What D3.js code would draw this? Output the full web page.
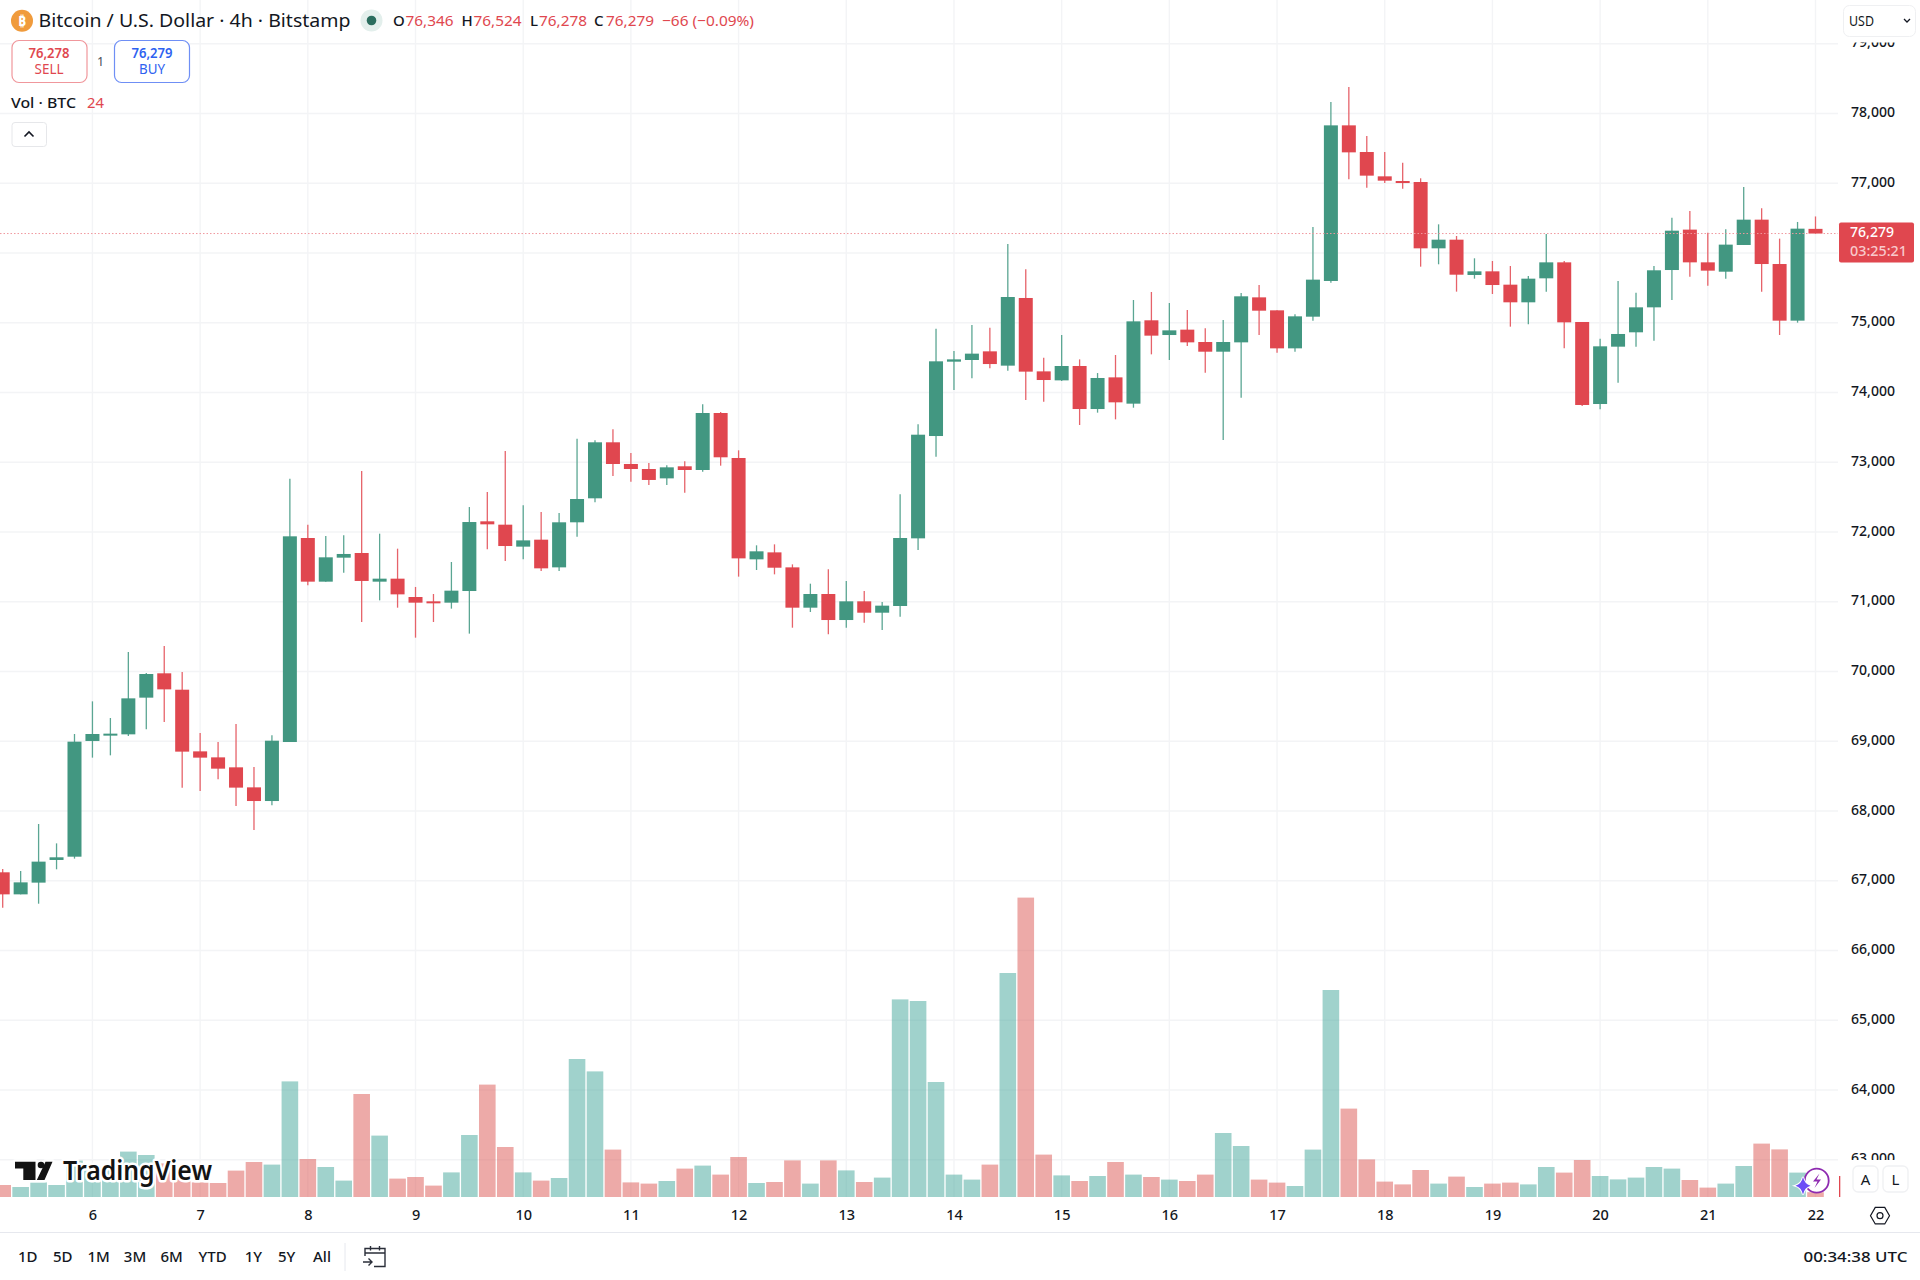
<!DOCTYPE html>
<html>
<head>
<meta charset="utf-8">
<script src="https://cdn.jsdelivr.net/npm/d3@7/dist/d3.min.js"></script>
<style>
  html, body { margin: 0; padding: 0; background: #fff; }
  svg { display: block; }
  text { font-family: "Noto Sans", sans-serif; }
</style>
</head>
<body>
<svg id="chart" width="1920" height="1280"></svg>
<script>
// BTC/USD, 4-hour candles (Bitstamp); first bar is 5th 20:00
const opens = [67121,66805,66973,67298,67345,69004,69090,69099,69625,69974,69739,68855,68769,68626,68339,68143,68989,71914,71288,71632,71699,71288,71331,71068,71006,70987,71154,72153,72105,71790,71890,71493,72139,72483,73286,72975,72903,72769,72942,72889,73706,73061,71608,71708,71493,70915,71111,70738,71006,70843,70939,71909,73376,74442,74466,74590,74385,75355,74303,74174,74380,73763,74217,73840,75035,74824,74901,74724,74585,74719,75364,75178,74633,75087,75599,77830,77448,77099,77032,77018,76067,76191,75685,75737,75546,75293,75637,75866,75011,73835,74657,74863,75221,75756,76335,75866,75732,76115,76478,75842,75030,76346];
const highs = [67168,67140,67814,67536,69104,69572,69333,70280,69978,70365,69993,69118,68989,69247,68631,69085,72765,72105,71943,71952,72875,71976,71761,71212,71111,71570,72358,72573,73161,72382,72287,72272,73338,73314,73472,73133,72989,72956,73013,73830,73720,73171,71809,71823,71536,71259,71465,71297,71154,70996,72540,73544,74915,74595,74968,74929,76129,75766,74499,74824,74475,74279,74538,75326,75441,75283,75183,74920,75039,75426,75541,75178,75121,76373,78165,78380,77677,77448,77295,77071,76411,76244,75924,75885,75814,75670,76272,75885,75011,74772,75599,75431,75814,76507,76602,76292,76339,76946,76640,76206,76445,76524];
const lows = [66614,66805,66671,67164,67317,68765,68798,69075,69171,69276,68335,68287,68454,68072,67728,68081,68989,71235,71288,71417,70710,71020,70915,70485,70710,70901,70543,71752,71584,71608,71441,71441,71933,72425,72803,72722,72674,72674,72564,72865,72951,71360,71455,71393,70628,70853,70533,70628,70700,70595,70786,71742,73080,74036,74203,74346,74313,73892,73868,74165,73534,73711,73615,73782,74547,74466,74667,74284,73319,73926,74824,74571,74585,75030,75575,77056,76937,77004,76922,75804,75838,75446,75632,75412,74944,74977,75446,74633,73807,73759,74141,74657,74743,75326,75661,75532,75632,76115,75446,74824,75001,76278];
const closes = [66805,66977,67274,67336,68994,69104,69109,69615,69964,69744,68851,68765,68607,68335,68143,69008,71938,71288,71637,71685,71298,71331,71106,70987,70987,71159,72143,72110,71799,71880,71479,72139,72473,73286,72975,72903,72746,72927,72889,73706,73071,71622,71723,71488,70915,71111,70738,71006,70843,70944,71914,73395,74447,74475,74557,74408,75369,74299,74179,74380,73763,74208,73859,75020,74815,74891,74719,74585,74724,75379,75173,74633,75092,75618,77830,77443,77109,77037,77008,76067,76191,75689,75737,75541,75293,75632,75866,75006,73821,74662,74839,75221,75752,76320,75866,75747,76120,76478,75842,75030,76349,76279];
const volumes = [60,50,73,60,182,152,135,227,210,168,118,73,70,132,175,162,578,190,150,82,515,307,92,100,57,123,310,562,250,123,82,95,690,628,237,73,67,80,142,157,112,200,70,75,183,67,183,133,75,97,988,980,575,112,87,162,1120,1497,212,108,80,105,175,112,100,87,80,112,320,255,87,72,55,237,1035,442,188,77,63,135,67,102,50,67,72,63,150,122,185,105,88,97,150,142,85,47,67,155,267,238,122,24];

const priceTicks = [79000,78000,77000,76000,75000,74000,73000,72000,71000,70000,69000,68000,67000,66000,65000,64000,63000];
const dayLabels = [6,7,8,9,10,11,12,13,14,15,16,17,18,19,20,21,22];
const rangeButtons = [["1D",27.7],["5D",62.7],["1M",98.7],["3M",135],["6M",171.7],["YTD",212.7],["1Y",253.3],["5Y",286.7],["All",322]];
const lastPrice = 76279;

const GREEN = "#429781", RED = "#e0474f", TEXT = "#131722", GRID = "#f3f4f6";

const svg = d3.select("#chart");
const x = d3.scaleLinear().domain([0, 101]).range([2.7, 1815.5]);
const y = d3.scaleLinear().domain([79000, 63000]).range([43.75, 1159.75]);
const vol = d3.scaleLinear().domain([0, 1500]).range([1197, 897]);
const dayIndex = d => (d - 6) * 6 + 5;

const defs = svg.append("defs");
defs.append("clipPath").attr("id", "pane").append("rect").attr("x", 0).attr("y", 0).attr("width", 1838).attr("height", 1197);
defs.append("clipPath").attr("id", "priceScale").append("rect").attr("x", 1838).attr("y", 42.5).attr("width", 82).attr("height", 1117.5);

// Grid
const grid = svg.append("g").attr("clip-path", "url(#pane)");
grid.selectAll(".h").data(priceTicks).join("line")
  .attr("x1", 0).attr("x2", 1838).attr("y1", d => y(d)).attr("y2", d => y(d))
  .attr("stroke", GRID).attr("stroke-width", 1.4);
grid.selectAll(".v").data(dayLabels).join("line")
  .attr("x1", d => x(dayIndex(d))).attr("x2", d => x(dayIndex(d))).attr("y1", 0).attr("y2", 1197)
  .attr("stroke", GRID).attr("stroke-width", 1.4);

const up = i => closes[i] >= opens[i];

// Volume bars
const volW = 16.6;
svg.append("g").attr("clip-path", "url(#pane)").selectAll("rect").data(volumes).join("rect")
  .attr("x", (d, i) => x(i) - volW / 2).attr("width", volW)
  .attr("y", d => vol(d)).attr("height", d => 1197 - vol(d))
  .attr("fill", (d, i) => up(i) ? "#41a599" : "#db5551").attr("fill-opacity", 0.5);

// Candles
const candles = svg.append("g").attr("clip-path", "url(#pane)").selectAll("g").data(opens).join("g");
candles.append("line")
  .attr("x1", (d, i) => x(i)).attr("x2", (d, i) => x(i))
  .attr("y1", (d, i) => y(highs[i])).attr("y2", (d, i) => y(lows[i]))
  .attr("stroke", (d, i) => up(i) ? "#5ba693" : "#e6636a").attr("stroke-width", 1.3);
const bodyW = 14;
candles.append("rect")
  .attr("x", (d, i) => x(i) - bodyW / 2).attr("width", bodyW)
  .attr("y", (d, i) => y(Math.max(opens[i], closes[i])))
  .attr("height", (d, i) => Math.max(2, Math.abs(y(opens[i]) - y(closes[i]))))
  .attr("fill", (d, i) => up(i) ? GREEN : RED);

// Last price line
svg.append("line").attr("x1", 0).attr("x2", 1838).attr("y1", y(lastPrice)).attr("y2", y(lastPrice))
  .attr("stroke", "#f0989e").attr("stroke-width", 1).attr("stroke-dasharray", "1.5 2");

// Labels with a fixed rendered width
function label(parent, str, px, py, size, color, opts = {}) {
  const t = parent.append("text").attr("x", px).attr("y", py).attr("dy", "0.35em")
    .attr("font-size", size).attr("fill", color).text(str);
  if (opts.anchor) t.attr("text-anchor", opts.anchor);
  if (opts.weight) t.attr("font-weight", opts.weight);
  if (opts.width) t.attr("textLength", opts.width).attr("lengthAdjust", "spacingAndGlyphs");
  return t;
}

// Price axis; the 76,000 label sits under the last-price tag, so it is left out
const axisR = svg.append("g").attr("clip-path", "url(#priceScale)").append("g")
  .attr("transform", "translate(1851,-1.7)")
  .call(d3.axisRight(y).tickValues(priceTicks.filter(p => p !== 76000)).tickFormat(d3.format(",")).tickSize(0).tickPadding(0));
axisR.select(".domain").remove();
axisR.selectAll("text").attr("font-size", 15).attr("fill", TEXT).attr("font-weight", 500)
  .attr("textLength", 44).attr("lengthAdjust", "spacingAndGlyphs")
  .style("font-family", '"Noto Sans", sans-serif');

// Time axis
const axisB = svg.append("g").attr("transform", "translate(0,1214.5)")
  .call(d3.axisBottom(x).tickValues(dayLabels.map(dayIndex)).tickFormat(i => dayLabels[(i - 5) / 6]).tickSize(0).tickPadding(0));
axisB.select(".domain").remove();
axisB.selectAll("text").attr("font-size", 14.5).attr("fill", TEXT).attr("font-weight", 500).attr("y", 0).attr("dy", "0.35em")
  .style("font-family", '"Noto Sans", sans-serif');

// Price tag
const tag = svg.append("g");
tag.append("rect").attr("x", 1839).attr("y", 222.5).attr("width", 75).attr("height", 40).attr("rx", 2).attr("fill", "#e0474f");
label(tag, d3.format(",")(lastPrice), 1850, 232.5, 14, "#fff", { width: 44, weight: 500 });
label(tag, "03:25:21", 1850, 251.5, 14, "#f8c9cc", { width: 57, weight: 500 });
svg.append("rect").attr("x", 1839).attr("y", 1176).attr("width", 1.3).attr("height", 21).attr("fill", "#e0474f");

// Header line
const head = svg.append("g");
head.append("circle").attr("cx", 22).attr("cy", 20.7).attr("r", 11).attr("fill", "#f09b3c");
label(head, "₿", 22, 20.7, 14, "#fff", { anchor: "middle", weight: 700 });
label(head, "Bitcoin / U.S. Dollar · 4h · Bitstamp", 38.5, 20.5, 17.5, TEXT, { width: 312 });
head.append("circle").attr("cx", 371.5).attr("cy", 20.5).attr("r", 11).attr("fill", "#e3efec");
head.append("circle").attr("cx", 371.5).attr("cy", 20.5).attr("r", 4.8).attr("fill", "#2a6d5e");
[["O",393,"76,346",405.5],["H",461.5,"76,524",473.5],["L",530,"76,278",539],["C",594,"76,279",606]].forEach(([k, kx, v, vx]) => {
  label(head, k, kx, 20.5, 15, TEXT, { weight: 500 });
  label(head, v, vx, 20.5, 15, RED, { width: 48 });
});
label(head, "−66 (−0.09%)", 662, 20.5, 15, RED, { width: 92 });

// Sell and buy buttons
head.append("rect").attr("x", 12).attr("y", 40.5).attr("width", 75).attr("height", 42).attr("rx", 7).attr("fill", "#fff").attr("stroke", "#f0979c").attr("stroke-width", 1.2);
label(head, "76,278", 49, 52.5, 15, RED, { anchor: "middle", width: 41, weight: 600 });
label(head, "SELL", 49, 69.5, 13.5, RED, { anchor: "middle", width: 29 });
label(head, "1", 100.5, 62, 12.5, "#4a4e58", { anchor: "middle" });
head.append("rect").attr("x", 114.5).attr("y", 40.5).attr("width", 75).attr("height", 42).attr("rx", 7).attr("fill", "#fff").attr("stroke", "#6f8ff5").attr("stroke-width", 1.2);
label(head, "76,279", 152, 52.5, 15, "#2e62f0", { anchor: "middle", width: 41, weight: 600 });
label(head, "BUY", 152, 69.5, 13.5, "#2e62f0", { anchor: "middle", width: 26 });

// Volume legend and collapse button
label(head, "Vol · BTC", 11, 103, 15, TEXT, { width: 65, weight: 500 });
label(head, "24", 87, 103, 15, RED, { width: 17 });
head.append("rect").attr("x", 12).attr("y", 122.5).attr("width", 34.5).attr("height", 24).attr("rx", 3).attr("fill", "#fff").attr("stroke", "#e6e7ea");
head.append("path").attr("d", "M24.5 136.5 L29 132 L33.5 136.5").attr("fill", "none").attr("stroke", TEXT).attr("stroke-width", 1.6);

// Currency selector
head.append("rect").attr("x", 1843.5).attr("y", 5.5).attr("width", 72).attr("height", 31).attr("rx", 6).attr("fill", "#fff").attr("stroke", "#eff0f2");
label(head, "USD", 1849, 20.5, 14.5, TEXT, { width: 25 });
head.append("path").attr("d", "M1904 19 L1907 22 L1910 19").attr("fill", "none").attr("stroke", TEXT).attr("stroke-width", 1.3);

// Wordmark: white halo first, then the glyphs
const logo = svg.append("g");
const tPath = "M15 1161.7 H35.5 V1180 H23.3 V1168.5 H15 Z";
const slashPath = "M45.5 1161.7 H52.5 L44.5 1180 H36.8 Z";
logo.append("path").attr("d", tPath + slashPath).attr("fill", "#131313").attr("stroke", "#fff").attr("stroke-width", 5).attr("stroke-linejoin", "round").attr("paint-order", "stroke");
logo.append("circle").attr("cx", 41).attr("cy", 1165).attr("r", 3.3).attr("fill", "#131313");
label(logo, "TradingView", 63, 1171, 27, "#131313", { weight: 600, width: 149 })
  .attr("stroke", "#fff").attr("stroke-width", 5).attr("paint-order", "stroke").attr("stroke-linejoin", "round");

// Assistant badge
const badge = svg.append("g");
badge.append("circle").attr("cx", 1816.7).attr("cy", 1180.7).attr("r", 12).attr("fill", "#fff").attr("stroke", "#8e2bb0").attr("stroke-width", 1.8);
badge.append("path").attr("d", "M1819.5 1173.5 L1813 1181.5 H1817.5 L1814.5 1188 L1821 1179.5 H1816.5 Z").attr("fill", "#8e2bb0");
badge.append("path").attr("d", "M1803 1177 Q1804.5 1184 1810.5 1185.7 Q1804.5 1187.5 1803 1194.5 Q1801.5 1187.5 1795.5 1185.7 Q1801.5 1184 1803 1177 Z")
  .attr("fill", "#6c4df6").attr("stroke", "#fff").attr("stroke-width", 2).attr("paint-order", "stroke");

// Auto and log toggles
[["A", 1853], ["L", 1883]].forEach(([s, bx]) => {
  svg.append("rect").attr("x", bx).attr("y", 1166).attr("width", 25).attr("height", 26).attr("rx", 5).attr("fill", "#fff").attr("stroke", "#f0f1f3").attr("stroke-width", 1.4);
  label(svg, s, bx + 12.5, 1179.5, 15, TEXT, { anchor: "middle" });
});

// Scale settings
const gear = d3.range(6).map(k => [1880 + 9.5 * Math.cos(k * Math.PI / 3), 1215.7 + 9.5 * Math.sin(k * Math.PI / 3)]);
svg.append("path").attr("d", d3.line()(gear) + "Z").attr("fill", "none").attr("stroke", TEXT).attr("stroke-width", 1.2);
svg.append("circle").attr("cx", 1880).attr("cy", 1215.7).attr("r", 3).attr("fill", "none").attr("stroke", TEXT).attr("stroke-width", 1.2);

// Bottom toolbar
svg.append("line").attr("x1", 0).attr("x2", 1920).attr("y1", 1232.5).attr("y2", 1232.5).attr("stroke", "#e6e8ee");
rangeButtons.forEach(([s, bx]) => label(svg, s, bx, 1256.5, 15, TEXT, { anchor: "middle", weight: 500 }));
svg.append("line").attr("x1", 345).attr("x2", 345).attr("y1", 1243).attr("y2", 1271).attr("stroke", "#e6e8ee");
svg.append("path").attr("d", "M365 1256 V1248.5 H385 V1266.5 H374 M365 1253 H385 M370.5 1246 V1250.5 M379.5 1246 V1250.5 M363 1262 H372 M368.5 1258.5 L372 1262 L368.5 1265.5")
  .attr("fill", "none").attr("stroke", "#2a2e39").attr("stroke-width", 1.4);
label(svg, "00:34:38 UTC", 1803.5, 1256.5, 15, TEXT, { width: 104, weight: 500 });
</script>
</body>
</html>
